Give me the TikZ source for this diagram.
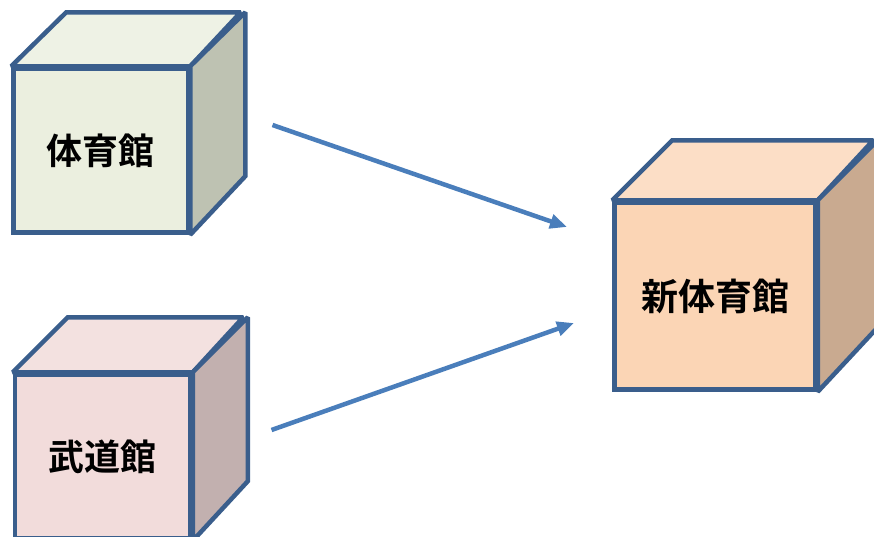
\documentclass[tikz,border=0pt]{standalone}
\usepackage{fontspec}
\newfontfamily\cjk{Noto Sans CJK JP}[BoldFont={Noto Sans CJK JP Bold}]
\usetikzlibrary{arrows.meta}
\definecolor{edgeblue}{HTML}{3A5E8C}
\definecolor{arrowblue}{HTML}{4A7EBB}
\definecolor{gfront}{HTML}{EBEFDF}
\definecolor{gtop}{HTML}{EEF2E5}
\definecolor{gside}{HTML}{BEC2B2}
\definecolor{pfront}{HTML}{F2DCDB}
\definecolor{ptop}{HTML}{F3E1E0}
\definecolor{pside}{HTML}{C2B0AF}
\definecolor{ofront}{HTML}{FBD5B5}
\definecolor{otop}{HTML}{FCDEC6}
\definecolor{oside}{HTML}{C9AA90}
\tikzset{
  face/.style={draw=edgeblue, line width=4.5pt, inner sep=0pt, line join=miter,
    font=\cjk\bfseries\fontsize{36}{40}\selectfont, text=black},
  facet/.style={draw=edgeblue, line width=4.5pt, line join=miter, miter limit=2},
  link/.style={draw=arrowblue, line width=4.5pt, -{Triangle[length=17pt,width=14pt]}},
}
\begin{document}
\begin{tikzpicture}[x=1pt,y=-1pt]
\useasboundingbox (0,0) rectangle (874,536);
% cube 1
\node[face, fill=gfront, minimum width=174.5pt, minimum height=164pt] (c1) at (100.75,150.5) {体育館};
\draw[facet, fill=gtop] (c1.north west) -- ++(55,-54) -- ++(174.5,0) -- (c1.north east) -- cycle;
\draw[facet, fill=gside] (c1.north east) -- ++(55,-54) -- ++(0,164) -- (c1.south east) -- cycle;
% cube 2
\node[face, fill=pfront, minimum width=175.5pt, minimum height=164pt] (c2) at (102.75,456.5) {武道館};
\draw[facet, fill=ptop] (c2.north west) -- ++(55,-55) -- ++(175.5,0) -- (c2.north east) -- cycle;
\draw[facet, fill=pside] (c2.north east) -- ++(55,-55) -- ++(0,164) -- (c2.south east) -- cycle;
% cube 3
\node[face, fill=ofront, minimum width=201pt, minimum height=187pt, font=\cjk\bfseries\fontsize{37}{40}\selectfont] (c3) at (715,296) {新体育館};
\draw[facet, fill=otop] (c3.north west) -- ++(60,-60) -- ++(201,0) -- (c3.north east) -- cycle;
\draw[facet, fill=oside] (c3.north east) -- ++(60,-60) -- ++(0,187) -- (c3.south east) -- cycle;
% arrows
\coordinate (a1s) at (272.5,125);
\coordinate (a1e) at (567,227);
\coordinate (a2s) at (271.5,430);
\coordinate (a2e) at (574,323);
\draw[link] (a1s) -- (a1e);
\draw[link] (a2s) -- (a2e);
\end{tikzpicture}
\end{document}
